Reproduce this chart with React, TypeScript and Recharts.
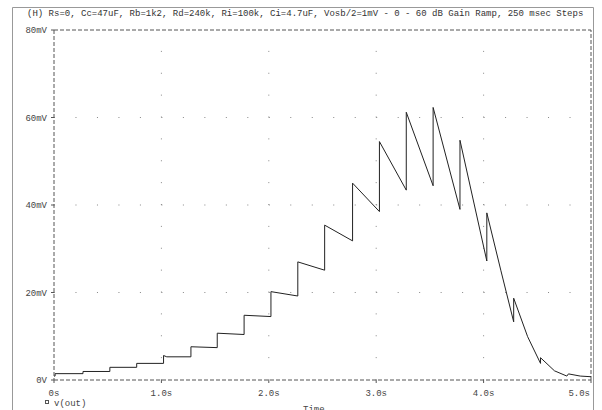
import React from "react";
import { LineChart, Line, XAxis, YAxis, ReferenceLine } from "recharts";

const title =
  "(H) Rs=0, Cc=47uF, Rb=1k2, Rd=240k, Ri=100k, Ci=4.7uF, Vosb/2=1mV - 0 - 60 dB Gain Ramp, 250 msec Steps";
const seriesName = "v(out)";
const xAxisTitle = "Time";

const xTicks = [0, 1, 2, 3, 4, 5];
const yTicks = [0, 20, 40, 60, 80];
const xGrid = [1, 2, 3, 4];
const yGrid = [20, 40, 60];

// time in seconds
const timeS = [
  0, 0.01, 0.01, 0.27, 0.27, 0.52, 0.52, 0.77, 0.77, 1.02, 1.02, 1.05,
  1.275, 1.275, 1.52, 1.52, 1.77, 1.77, 2.02, 2.02, 2.27, 2.27, 2.52, 2.52,
  2.78, 2.78, 3.03, 3.03, 3.28, 3.28, 3.53, 3.53, 3.78, 3.78, 4.03, 4.03,
  4.16, 4.28, 4.28, 4.41, 4.53, 4.53, 4.66, 4.775, 4.79, 4.9, 5.0,
];
// v(out) in mV
const voutMv = [
  0.9, 0.9, 1.45, 1.45, 1.95, 1.95, 2.9, 2.9, 3.8, 3.8, 5.6, 5.3,
  5.3, 7.6, 7.4, 10.7, 10.4, 14.8, 14.5, 20.2, 19.2, 27.0, 25.1, 35.4,
  31.8, 45.0, 38.5, 54.5, 43.4, 61.2, 44.4, 62.3, 39.0, 54.8, 27.2, 38.2,
  25.1, 13.3, 18.7, 9.9, 3.8, 5.1, 2.1, 0.9, 1.4, 0.9, 0.75,
];

const data = timeS.map((t, i) => ({ t, v: voutMv[i] }));

const FONT = "'Liberation Mono', 'DejaVu Sans Mono', monospace";
const tickStyle = { fontFamily: FONT, fontSize: 9, fill: "#444" };

const fmtX = (v: number) => (v === 0 ? "0s" : `${v.toFixed(1)}s`);

const XTick = (props: any) => {
  const { x, y, payload } = props;
  const last = payload.value === xTicks[xTicks.length - 1];
  return (
    <text
      x={last ? x - 1 : x}
      y={y}
      dy={8}
      textAnchor={last ? "end" : "middle"}
      fontFamily={FONT}
      fontSize={9}
      fill="#444"
    >
      {fmtX(payload.value)}
    </text>
  );
};

export default function App() {
  return (
    <div
      style={{
        position: "absolute",
        left: 0,
        top: 0,
        width: 602,
        height: 410,
        background: "#fff",
        overflow: "hidden",
      }}
    >
      <LineChart
        width={602}
        height={410}
        data={data}
        margin={{ top: 30, right: 11, bottom: 0, left: 0 }}
      >
        <XAxis
          type="number"
          dataKey="t"
          domain={[0, 5]}
          ticks={xTicks}
          interval={0}
          allowDataOverflow
          height={30}
          tickSize={3}
          tickMargin={5}
          tick={<XTick />}
          axisLine={{ stroke: "#555", strokeDasharray: "4 2" }}
          tickLine={{ stroke: "#555" }}
        />
        <YAxis
          type="number"
          domain={[0, 80]}
          ticks={yTicks}
          interval={0}
          allowDataOverflow
          width={54}
          tickSize={3}
          tickMargin={4}
          tick={tickStyle}
          tickFormatter={(v: number) => (v === 0 ? "0V" : `${v}mV`)}
          axisLine={{ stroke: "#555", strokeDasharray: "4 2" }}
          tickLine={{ stroke: "#555" }}
        />
        {yGrid.map((y) => (
          <ReferenceLine
            key={"gy" + y}
            y={y}
            stroke="#888"
            strokeDasharray="1 20.48"
          />
        ))}
        {xGrid.map((x) => (
          <ReferenceLine
            key={"gx" + x}
            x={x}
            stroke="#888"
            strokeDasharray="1 20.875"
          />
        ))}
        <ReferenceLine y={80} stroke="#555" strokeDasharray="4 2" />
        <ReferenceLine x={5} stroke="#555" strokeDasharray="4 2" />
        <Line
          type="linear"
          dataKey="v"
          stroke="#222"
          strokeWidth={1}
          dot={false}
          isAnimationActive={false}
        />
      </LineChart>
      <svg
        width={602}
        height={410}
        style={{ position: "absolute", left: 0, top: 0, pointerEvents: "none" }}
      >
        <path d="M12.5 410 V7.5 H593.5 V410" fill="none" stroke="#999" strokeWidth={1} />
        <text x={27} y={16} fontFamily={FONT} fontSize={9} fill="#333">
          {title}
        </text>
        <rect x={45.5} y={400.5} width={3} height={3} fill="none" stroke="#555" strokeWidth={1} />
        <text x={54} y={406} fontFamily={FONT} fontSize={9} fill="#444">
          {seriesName}
        </text>
        <text x={303} y={412} fontFamily={FONT} fontSize={9} fill="#444">
          {xAxisTitle}
        </text>
      </svg>
    </div>
  );
}
